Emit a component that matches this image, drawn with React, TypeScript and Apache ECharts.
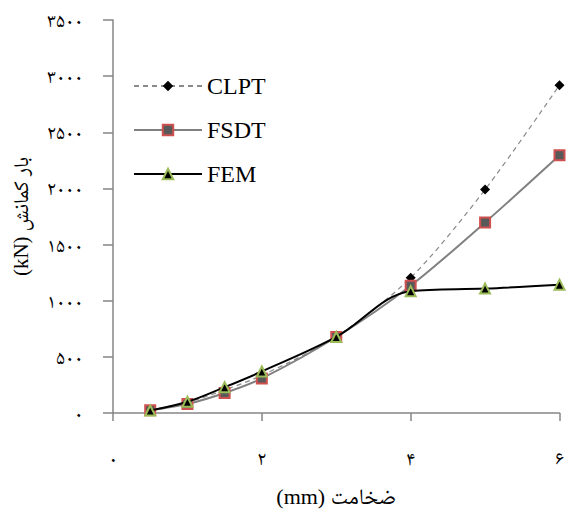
import React, { useEffect, useRef } from "react";
import * as echarts from "echarts";

const thickness = [0.5, 1, 1.5, 2, 3, 4, 5, 6];
const clpt = [28, 95, 205, 335, 680, 1205, 1990, 2920];
const fsdt = [25, 80, 178, 308, 677, 1134, 1697, 2295];
const fem = [22, 100, 230, 370, 677, 1085, 1108, 1143];
const seriesNames = ["CLPT", "FSDT", "FEM"];
const xTitle = "ضخامت (mm)";
const yTitle = "بار کمانش (kN)";

const faDigits = ["۰", "۱", "۲", "۳", "۴", "۵", "۶", "۷", "۸", "۹"];
const toFa = (v: number) => String(v).replace(/\d/g, (d) => faDigits[+d]);
const rtl = (s: string) => "\u202B" + s + "\u202C";

const serif = "'Liberation Serif', 'Times New Roman', 'Noto Naskh Arabic', 'DejaVu Serif', serif";

export default function App() {
  const ref = useRef<HTMLDivElement>(null);
  useEffect(() => {
    if (!ref.current) return;
    const chart = echarts.init(ref.current, undefined, { renderer: "svg" });
    const pts = (ys: number[]) => thickness.map((x, i) => [x, ys[i]]);
    chart.setOption({
      animation: false,
      backgroundColor: "#ffffff",
      grid: { left: 113, right: 6, top: 20, bottom: 94, containLabel: false },
      legend: {
        orient: "vertical",
        left: 128,
        top: 69,
        itemWidth: 68,
        itemHeight: 13,
        itemGap: 20,
        textStyle: { fontFamily: serif, fontSize: 24, color: "#000" },
        data: seriesNames,
      },
      xAxis: {
        type: "value",
        min: 0,
        max: 6,
        interval: 2,
        name: rtl(xTitle),
        nameLocation: "middle",
        nameGap: 72,
        nameTextStyle: { fontFamily: serif, fontSize: 22, color: "#000" },
        axisLine: { show: true, lineStyle: { color: "#868686", width: 1.5 } },
        axisTick: { show: true, length: 8, lineStyle: { color: "#868686", width: 1.5 } },
        axisLabel: { formatter: (v: number) => toFa(v), margin: 35, fontFamily: serif, fontSize: 20, color: "#000" },
        splitLine: { show: false },
      },
      yAxis: {
        type: "value",
        min: 0,
        max: 3500,
        interval: 500,
        name: rtl(yTitle),
        nameLocation: "middle",
        nameGap: 82,
        nameTextStyle: { fontFamily: serif, fontSize: 21, color: "#000" },
        axisLine: { show: true, lineStyle: { color: "#868686", width: 1.5 } },
        axisTick: { show: true, length: 10, lineStyle: { color: "#868686", width: 1.5 } },
        axisLabel: { formatter: (v: number) => toFa(v), margin: 30, fontFamily: serif, fontSize: 20, color: "#000" },
        splitLine: { show: false },
      },
      series: [
        {
          name: seriesNames[0],
          type: "line",
          data: pts(clpt),
          smooth: 0.3,
          symbol: "diamond",
          symbolSize: 10,
          lineStyle: { color: "#8a8a8a", width: 1.2, type: [5, 4] },
          itemStyle: { color: "#000000", borderColor: "#000000", borderWidth: 0 },
          z: 2,
        },
        {
          name: seriesNames[1],
          type: "line",
          data: pts(fsdt),
          smooth: 0.3,
          symbol: "rect",
          symbolSize: 10,
          lineStyle: { color: "#808080", width: 2 },
          itemStyle: { color: "#595959", borderColor: "#d05050", borderWidth: 2 },
          z: 3,
        },
        {
          name: seriesNames[2],
          type: "line",
          data: pts(fem),
          smooth: 0.35,
          symbol: "triangle",
          symbolSize: 10,
          lineStyle: { color: "#000000", width: 2 },
          itemStyle: { color: "#000000", borderColor: "#9bbb59", borderWidth: 2 },
          z: 4,
        },
      ],
    });
    return () => chart.dispose();
  }, []);
  return <div ref={ref} style={{ width: 567, height: 512, position: "absolute", left: 0, top: 0 }} />;
}
